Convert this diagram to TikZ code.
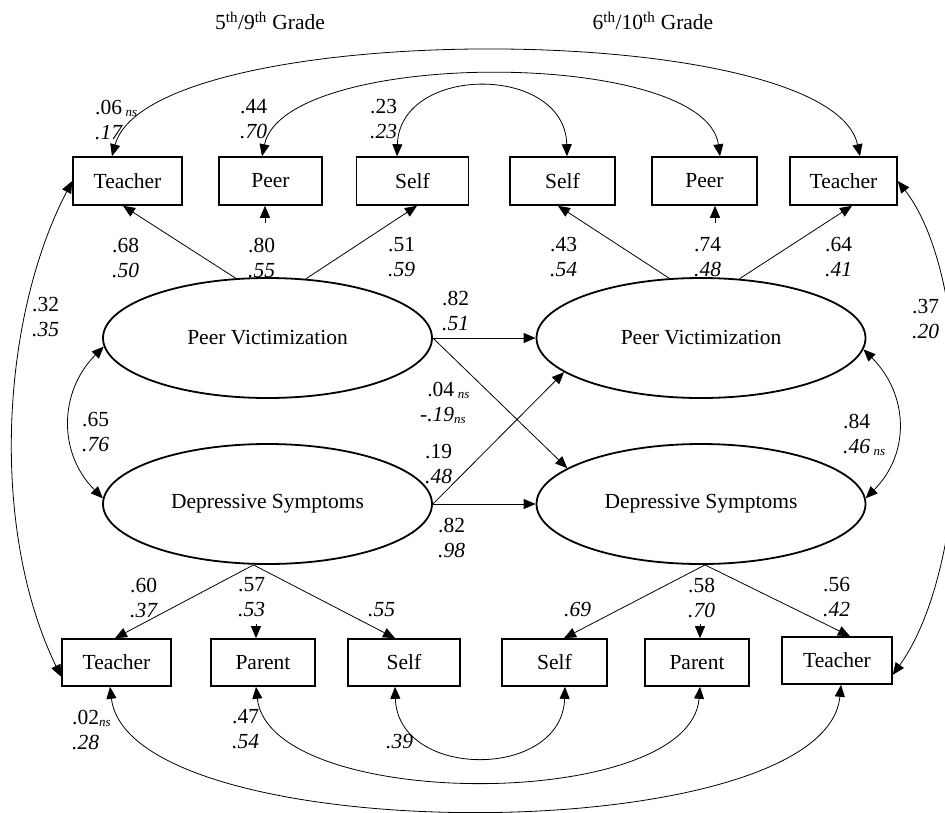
\documentclass[tikz,border=0pt]{standalone}
\usepackage{fontspec}
\setmainfont{Liberation Serif}
\usetikzlibrary{shapes.geometric,arrows.meta,calc}
\newcommand\nsub{\raisebox{-2pt}{\fontsize{13}{13}\selectfont\itshape ns}}
\begin{document}
\begin{tikzpicture}[x=1pt,y=-1pt,
  font=\fontsize{21.5}{25}\selectfont,
  mbox/.style={draw, line width=1.6pt, minimum height=48pt, inner sep=0pt},
  lv/.style={ellipse, draw, line width=1.8pt, minimum width=329pt, minimum height=120pt, inner sep=0pt},
  arr/.style={-{Triangle[length=12pt,width=10pt]}, line width=0.8pt},
  dbl/.style={{Triangle[length=12pt,width=10pt]}-{Triangle[length=12pt,width=10pt]}, line width=0.8pt},
  lab/.style={anchor=west, align=left, inner sep=0pt}]
\useasboundingbox (0,0) rectangle (945,812);

% titles
\node (g1) at (270,21) {5\textsuperscript{th}/9\textsuperscript{th} Grade};
\node (g2) at (653,21) {6\textsuperscript{th}/10\textsuperscript{th} Grade};

% top indicators
\node[mbox,minimum width=109pt] (ttl) at (127.5,181) {Teacher};
\node[mbox,minimum width=103pt] (ptl) at (270.5,181) {Peer};
\node[mbox,minimum width=112pt] (stl) at (412.5,181) {Self};
\node[mbox,minimum width=105pt] (str) at (562.5,181) {Self};
\node[mbox,minimum width=105pt] (ptr) at (704.5,181) {Peer};
\node[mbox,minimum width=107pt] (ttr) at (843.5,181) {Teacher};

% bottom indicators
\node[mbox,minimum width=109pt,minimum height=47pt] (tbl) at (116.5,662.5) {Teacher};
\node[mbox,minimum width=104pt,minimum height=47pt] (pbl) at (263,662.5) {Parent};
\node[mbox,minimum width=112pt,minimum height=47pt] (sbl) at (404,662.5) {Self};
\node[mbox,minimum width=105pt,minimum height=47pt] (sbr) at (554.5,662.5) {Self};
\node[mbox,minimum width=104pt,minimum height=47pt] (pbr) at (697,662.5) {Parent};
\node[mbox,minimum width=110pt,minimum height=47pt] (tbr) at (837,660.5) {Teacher};

% latent variables
\node[lv] (pvl) at (267.5,338) {Peer Victimization};
\node[lv] (dsl) at (267.5,504) {Depressive Symptoms};
\node[lv] (pvr) at (701,338) {Peer Victimization};
\node[lv] (dsr) at (701,504) {Depressive Symptoms};

% loadings top
\draw[arr] (pvl.118) -- ($(ttl.south)+(-4.5,0)$);
\draw[arr] (pvl.57) -- ($(stl.south)+(4.5,0)$);
\draw[arr] ($(ptl.south)+(-5.5,17)$) -- ($(ptl.south)+(-5.5,0)$);
\draw[arr] (pvr.118) -- ($(str.south)+(-4.5,0)$);
\draw[arr] (pvr.57) -- ($(ttr.south)+(8.5,0)$);
\draw[arr] ($(ptr.south)+(10.5,17)$) -- ($(ptr.south)+(10.5,0)$);

% loadings bottom
\coordinate (dslb) at ($(dsl.south)+(-14,0)$);
\coordinate (dsrb) at ($(dsr.south)+(4,0)$);
\draw[arr] (dslb) -- ($(tbl.north)+(-1.5,0)$);
\draw[arr] (dslb) -- ($(sbl.north)+(-9,0)$);
\draw[arr] ($(pbl.north)+(-7,-14)$) -- ($(pbl.north)+(-7,0)$);
\draw[arr] (dsrb) -- ($(sbr.north)+(9.5,0)$);
\draw[arr] (dsrb) -- ($(tbr.north)+(13,0)$);
\draw[arr] ($(pbr.north)+(3,-14)$) -- ($(pbr.north)+(3,0)$);

% structural paths
\draw[arr] (pvl.east) -- (pvr.west);
\draw[arr] (dsl.east) -- (dsr.west);
\draw[arr] (pvl.east) -- (dsr.165);
\draw[arr] (dsl.east) -- (pvr.194);

% latent correlations
\draw[dbl] (pvl.183) .. controls +(-45,45) and +(-45,-45) .. (dsl.178);
\draw[dbl] (pvr.356.5) .. controls +(45,45) and +(45,-45) .. (dsr.2);

% side correlations (teacher)
\draw[dbl] (ttl.west) .. controls (0,320) and (-10,530) .. ($(tbl.south west)+(0,-10)$);
\draw[dbl] (ttr.east) .. controls (975,280) and (975,560) .. ($(tbr.south east)+(0,-10)$);

% top stability arcs
\draw[dbl] ($(ttl.north)+(-15.5,0)$) .. controls (150,17) and (830,17) .. ($(ttr.north)+(16.5,0)$);
\draw[dbl] ($(ptl.north)+(-8.5,0)$) .. controls (285,48) and (705,48) .. ($(ptr.north)+(15.5,0)$);
\draw[dbl] ($(stl.north)+(-15.5,0)$) .. controls (400,64) and (565,64) .. ($(str.north)+(4.5,0)$);

% bottom stability arcs
\draw[dbl] ($(sbl.south)+(-9,0)$) .. controls (398,780) and (562,780) .. ($(sbr.south)+(10.5,0)$);
\draw[dbl] ($(pbl.south)+(-7,0)$) .. controls (270,812) and (690,812) .. ($(pbr.south)+(3,0)$);
\draw[dbl] ($(tbl.south)+(-6.5,0)$) .. controls (130,851) and (825,851) .. ($(tbr.south)+(4,0)$);

% labels
\node[lab] (l1) at (95,119.5) {.06\,\nsub\\\textit{.17}};
\node[lab] (l2) at (240,119.5) {.44\\\textit{.70}};
\node[lab] (l3) at (370,119.5) {.23\\\textit{.23}};
\node[lab] (l4) at (112,257.5) {.68\\\textit{.50}};
\node[lab] (l5) at (248,257.5) {.80\\\textit{.55}};
\node[lab] (l6) at (388,257.5) {.51\\\textit{.59}};
\node[lab] (l7) at (550,257.5) {.43\\\textit{.54}};
\node[lab] (l8) at (694,257.5) {.74\\\textit{.48}};
\node[lab] (l9) at (825,257.5) {.64\\\textit{.41}};
\node[lab] (l10) at (32,317.5) {.32\\\textit{.35}};
\node[lab] (l11) at (912,319.5) {.37\\\textit{.20}};
\node[lab] (l12) at (442,310.5) {.82\\\textit{.51}};
\node[lab] (l13) at (420,402.5) {\hphantom{-}.04\,\nsub\\\textit{-.19}\nsub};
\node[lab] (l14) at (425,464.5) {.19\\\textit{.48}};
\node[lab] (l15) at (438,537.5) {.82\\\textit{.98}};
\node[lab] (l16) at (82,432.5) {.65\\\textit{.76}};
\node[lab] (l17) at (843,435) {.84\\\textit{.46}\,\nsub};
\node[lab] (l18) at (130,597.5) {.60\\\textit{.37}};
\node[lab] (l19) at (238,597.5) {.57\\\textit{.53}};
\node[lab] (l20) at (368,610) {\textit{.55}};
\node[lab] (l21) at (564,610) {\textit{.69}};
\node[lab] (l22) at (688,597.5) {.58\\\textit{.70}};
\node[lab] (l23) at (823,597.5) {.56\\\textit{.42}};
\node[lab] (l24) at (72,729.5) {.02\nsub\\\textit{.28}};
\node[lab] (l25) at (232,729.5) {.47\\\textit{.54}};
\node[lab] (l26) at (386,742) {\textit{.39}};
\end{tikzpicture}
\end{document}
